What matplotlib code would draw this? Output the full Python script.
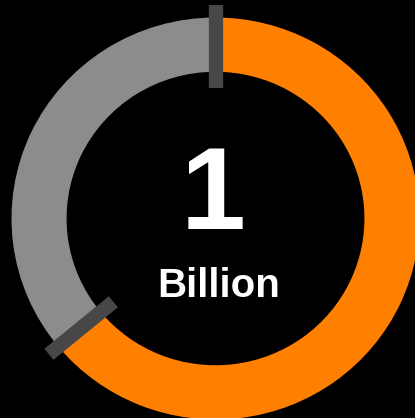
import matplotlib
matplotlib.use("Agg")
import matplotlib.pyplot as plt
import numpy as np

# data
labels = ["Share", "Rest"]
values = [64, 36]
colors = ["#ff7f00", "#8c8c8c"]
center_value = "1"
center_unit = "Billion"

W, H = 415, 418
fig = plt.figure(figsize=(W / 100, H / 100), dpi=100, facecolor="black")
ax = fig.add_axes([0, 0, 1, 1])
ax.set_facecolor("black")

inner = 0.73
ax.pie(values, colors=colors, startangle=90, counterclock=False, radius=1.0,
       wedgeprops=dict(width=1 - inner, linewidth=0))

# boundary ticks
fr = np.cumsum([0] + values[:-1]) / np.sum(values)
for f in fr:
    ang = np.deg2rad(90 - 360 * f)
    r = np.array([0.65, 1.06])
    ax.plot(r * np.cos(ang), r * np.sin(ang), color="#474747", lw=10.3,
            solid_capstyle="butt", zorder=5)

ax.text(-0.01, -0.05, center_value, ha="center", va="baseline", color="white",
        fontsize=84, fontweight="bold", family="Liberation Sans")
ax.text(0.015, -0.39, center_unit, ha="center", va="baseline", color="white",
        fontsize=29, fontweight="bold", family="Liberation Sans")

ax.set_aspect("auto")
cx, cy = 215.5, 218.5
sx, sy = 204, 201
ax.set_xlim(-cx / sx, (W - cx) / sx)
ax.set_ylim(-(H - cy) / sy, cy / sy)
ax.axis("off")

fig.savefig("out.png", dpi=100, facecolor="black")
